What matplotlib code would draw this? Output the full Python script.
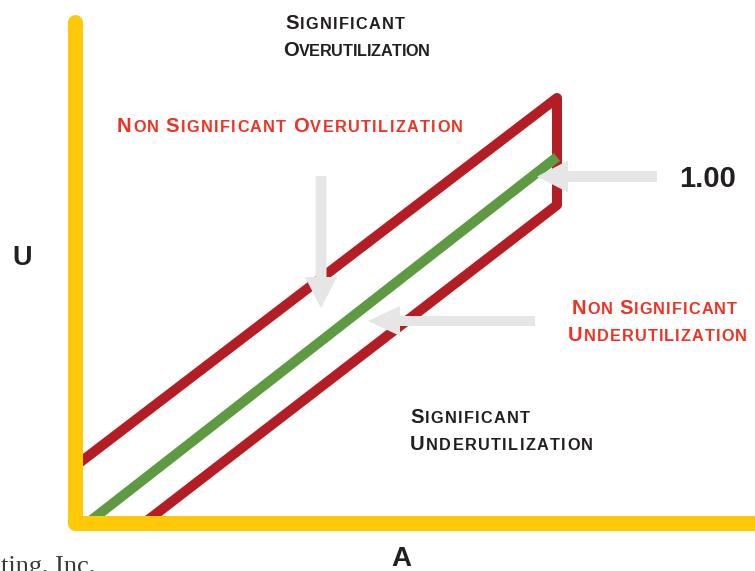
import matplotlib
matplotlib.use("Agg")
import matplotlib.pyplot as plt
from matplotlib.patches import FancyArrow

# ---- diagram content (pixel space of a 755x571 canvas, y downward) ----
axis_path_x = [74.5, 74.5, 800]
axis_path_y = [22, 522.5, 522.5]

# red tolerance band: upper line, right edge, lower line
band_x = [74, 557, 557, 145.5]
band_y = [467, 98, 205, 522]

# green 1.00 line
ideal_x = [89, 557]
ideal_y = [522, 157]

# arrows: (x_start, y_start, dx, dy, shaft, head_w, head_l)
arrows = [
    (321, 176, 0, 132, 11, 32, 31),
    (657, 176.5, -120, 0, 11, 32, 31),
    (535, 321, -167, 0, 10, 30, 32),
]

# small-caps labels: (x_left, baseline, text, colour, width)
BLACK = "#231F20"
RED_TXT = "#EE3224"
labels = [
    (285, 29, "Significant", BLACK, 120),
    (283, 56, "Overutilization", BLACK, 147),
    (117, 132, "Non Significant Overutilization", RED_TXT, 346),
    (572, 314, "Non Significant", RED_TXT, 165),
    (568, 341, "Underutilization", RED_TXT, 179),
    (410, 423, "Significant", BLACK, 120),
    (410, 450, "Underutilization", BLACK, 183),
]

YELLOW = "#FFC907"
RED = "#B51D24"
GREEN = "#5E9A41"
ARROW = "#E6E6E6"

W, H = 755, 571
fig = plt.figure(figsize=(W / 100, H / 100), dpi=100)
ax = fig.add_axes([0, 0, 1, 1])
ax.set_xlim(0, W)
ax.set_ylim(H, 0)
ax.axis("off")

PX = 0.72  # points per pixel at dpi 100

ax.plot(band_x, band_y, color=RED, lw=10 * PX, solid_joinstyle="round",
        solid_capstyle="butt", zorder=2)
ax.plot(ideal_x, ideal_y, color=GREEN, lw=10 * PX, solid_capstyle="butt",
        zorder=3)
ax.plot(axis_path_x, axis_path_y, color=YELLOW, lw=15 * PX,
        solid_capstyle="round", solid_joinstyle="round", zorder=5)

for (x0, y0, dx, dy, sw, hw, hl) in arrows:
    ax.add_patch(FancyArrow(x0, y0, dx, dy, width=sw, head_width=hw,
                            head_length=hl, length_includes_head=True,
                            color=ARROW, lw=0, zorder=6))

renderer = fig.canvas.get_renderer()
FONT = dict(family="Liberation Sans", weight="bold")
BIG, SMALL = 14.6, 11.7


def ink_width(ch, size):
    t = ax.text(0, 0, ch, fontsize=size, **FONT)
    w = t.get_window_extent(renderer).width
    t.remove()
    return w


def small_caps(x, y, text, color, target_w):
    items = []
    for wi, word in enumerate(text.split()):
        if wi:
            items.append(None)
        items.append((word[0].upper(), BIG))
        for c in word[1:]:
            items.append((c.upper(), SMALL))
    widths = [0 if it is None else ink_width(*it) for it in items]
    space_w = 4.0
    n_space = items.count(None)
    n_gaps = len(items) - 1
    total = sum(widths) + n_space * space_w
    track = (target_w - total) / max(n_gaps, 1)
    cur = x
    for it, w in zip(items, widths):
        if it is None:
            cur += space_w + track
            continue
        c, s = it
        ax.text(cur, y, c, fontsize=s, color=color, ha="left", va="baseline",
                zorder=7, **FONT)
        cur += w + track


for (x, y, txt, col, tw) in labels:
    small_caps(x, y, txt, col, tw)

ax.text(12, 265, "U", fontsize=19.5, color=BLACK, ha="left", va="baseline", **FONT)
ax.text(401.5, 566, "A", fontsize=20, color=BLACK, ha="center", va="baseline", **FONT)
ax.text(707.5, 187, "1.00", fontsize=21, color=BLACK, ha="center", va="baseline", **FONT)
ax.text(1, 573, "ting, Inc.", fontsize=19, color="#3A3A3A", ha="left",
        va="baseline", family="Liberation Serif")

fig.savefig("out.png", dpi=100)
